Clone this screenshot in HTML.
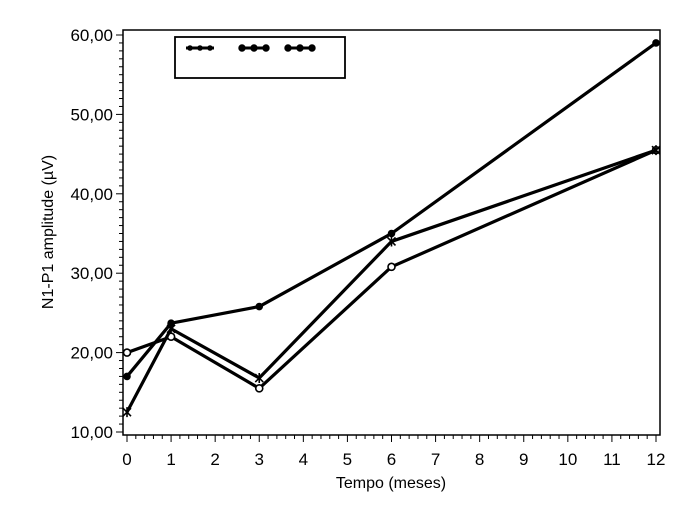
<!DOCTYPE html>
<html><head><meta charset="utf-8"><style>
body{margin:0;background:#fff;}
svg{display:block;font-family:"Liberation Sans",sans-serif;}
</style></head><body>
<svg id="chart" width="700" height="508">
<rect x="123" y="30" width="537" height="405" fill="none" stroke="#000" stroke-width="1.5"/>
<g id="axes"></g>
<g id="series"></g>
<text x="53" y="232" font-size="16" text-anchor="middle" transform="rotate(-90 53 232)">N1-P1 amplitude (µV)</text>
<text x="391" y="488" font-size="16" text-anchor="middle">Tempo (meses)</text>
<g>
<rect x="175" y="37" width="170" height="41" fill="#fff" stroke="#000" stroke-width="1.8"/>
<g stroke="#000" stroke-width="3" fill="#000">
<line x1="186" y1="48" x2="214" y2="48"/>
<circle cx="190" cy="48" r="1.3"/><circle cx="200" cy="48" r="1.3"/><circle cx="210" cy="48" r="1.3"/>
<line x1="241" y1="48" x2="268" y2="48"/>
<circle cx="242" cy="48" r="2.2"/><circle cx="254" cy="48" r="2.2"/><circle cx="266" cy="48" r="2.2"/>
<line x1="287" y1="48" x2="314" y2="48"/>
<circle cx="288" cy="48" r="2.2"/><circle cx="300" cy="48" r="2.2"/><circle cx="312" cy="48" r="2.2"/>
</g></g>
</svg>
<script>
const months=[0,1,3,6,12];
const filledSeries=[17.0,23.7,25.8,35.0,59.0];
const crossSeries=[12.5,23.0,16.8,34.0,45.5];
const openSeries=[20.0,22.0,15.5,30.8,45.5];
const yTicks=[10,20,30,40,50,60];
const yTickLabels=["10,00","20,00","30,00","40,00","50,00","60,00"];
const xTicks=[0,1,2,3,4,5,6,7,8,9,10,11,12];
const NS="http://www.w3.org/2000/svg";
function X(v){return 127+v*(656-127)/12;}
function Y(v){return 432-(v-10)*(432-35)/50;}
function mk(t,a,p){const e=document.createElementNS(NS,t);for(const k in a)e.setAttribute(k,a[k]);p.appendChild(e);return e;}
const ax=document.getElementById('axes');
for(let v=10;v<=60;v+=1){const l=mk('line',{x1:123,x2:v%10==0?116:119,y1:Y(v),y2:Y(v),stroke:'#000','stroke-width':1},ax);

}
yTicks.forEach((v,i)=>{const t=mk('text',{x:113,y:Y(v)+6,'font-size':17,'text-anchor':'end'},ax);t.textContent=yTickLabels[i];

});
for(let v=0;v<=12.001;v+=0.2){const l=mk('line',{x1:X(v),x2:X(v),y1:435,y2:Math.abs(v-Math.round(v))<0.01?442:439,stroke:'#000','stroke-width':1},ax);

}
xTicks.forEach(v=>{const t=mk('text',{x:X(v),y:465,'font-size':17,'text-anchor':'middle'},ax);t.textContent=v;

});
const sg=document.getElementById('series');
function draw(vals,name,marker){
 const pts=months.map((m,i)=>X(m)+','+Y(vals[i])).join(' ');
 const pl=mk('polyline',{points:pts,fill:'none',stroke:'#000','stroke-width':3.2,'stroke-linejoin':'round'},sg);
 
 
 months.forEach((m,i)=>{const x=X(m),y=Y(vals[i]);let e;
  if(marker=='filled')e=mk('circle',{cx:x,cy:y,r:3.8,fill:'#000'},sg);
  else if(marker=='open')e=mk('circle',{cx:x,cy:y,r:3.5,fill:'#fff',stroke:'#000','stroke-width':1.6},sg);
  else e=mk('path',{d:`M${x-4},${y-4}L${x+4},${y+4}M${x-4},${y+4}L${x+4},${y-4}M${x},${y-5}L${x},${y+5}`,stroke:'#000','stroke-width':1.6},sg);
  
  });
}
draw(openSeries,'open-circle-series','open');
draw(crossSeries,'cross-series','cross');
draw(filledSeries,'filled-circle-series','filled');
</script>
</body></html>
